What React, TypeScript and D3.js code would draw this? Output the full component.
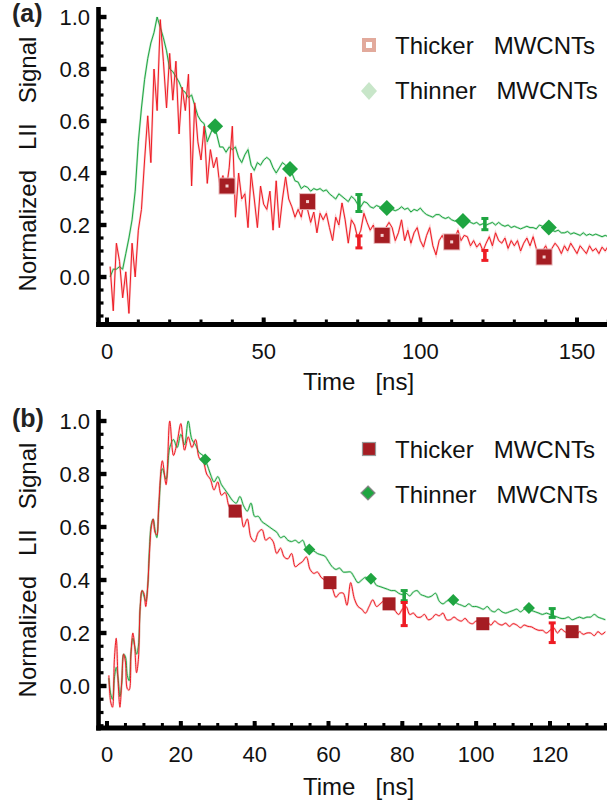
import React from "react";
import * as d3 from "d3";

// ---------- Panel (a) data ----------
const timeA = d3.range(1, 161);
const thickerA = [
  0.04, -0.13, 0.13, 0.06, -0.08, 0.02, -0.14, 0.13, 0.0, 0.18,
  0.26, 0.45, 0.62, 0.44, 0.8, 0.64, 0.99, 0.83, 0.65, 0.86,
  0.68, 0.83, 0.55, 0.73, 0.64, 0.78, 0.35, 0.67, 0.52, 0.45,
  0.58, 0.36, 0.49, 0.42, 0.46, 0.35, 0.39, 0.33, 0.42, 0.58,
  0.23, 0.4, 0.3, 0.32, 0.19, 0.4, 0.3, 0.19, 0.35, 0.28,
  0.26, 0.33, 0.18, 0.37, 0.19, 0.3, 0.385, 0.3, 0.27, 0.23,
  0.26, 0.23, 0.3, 0.26, 0.21, 0.25, 0.17, 0.245, 0.22, 0.245,
  0.19, 0.14, 0.23, 0.2, 0.285, 0.22, 0.13, 0.22, 0.2, 0.15,
  0.18, 0.245, 0.21, 0.18, 0.2, 0.15, 0.18, 0.16, 0.19, 0.21,
  0.19, 0.14, 0.17, 0.22, 0.14, 0.18, 0.13, 0.17, 0.19, 0.14,
  0.115, 0.16, 0.19, 0.12, 0.085, 0.14, 0.16, 0.13, 0.15, 0.12,
  0.15, 0.18, 0.14, 0.16, 0.155, 0.12, 0.14, 0.115, 0.13, 0.1,
  0.13, 0.155, 0.12, 0.17, 0.14, 0.13, 0.15, 0.11, 0.14, 0.12,
  0.14, 0.1, 0.13, 0.15, 0.12, 0.155, 0.11, 0.09, 0.1, 0.12,
  0.09, 0.11, 0.13, 0.115, 0.09, 0.12, 0.1, 0.13, 0.11, 0.09,
  0.12, 0.105, 0.09, 0.12, 0.1, 0.11, 0.09, 0.115, 0.1, 0.12,
];
const thinnerA = [
  0.0, 0.03, 0.03, 0.04, 0.03, 0.09, 0.15, 0.22, 0.33, 0.52,
  0.65, 0.76, 0.84, 0.9, 0.94, 1.0, 0.96, 0.92, 0.87, 0.8,
  0.79, 0.77, 0.75, 0.72, 0.71, 0.69, 0.7, 0.66, 0.62, 0.6,
  0.59, 0.52, 0.55, 0.58, 0.55, 0.5, 0.5, 0.48, 0.5, 0.49,
  0.5, 0.46, 0.44, 0.47, 0.49, 0.43, 0.41, 0.44, 0.43, 0.45,
  0.46, 0.45, 0.42, 0.4, 0.42, 0.44, 0.43, 0.415, 0.4, 0.37,
  0.365, 0.34, 0.35, 0.345, 0.33, 0.34, 0.335, 0.34, 0.33, 0.335,
  0.32, 0.31, 0.3, 0.32, 0.31, 0.3, 0.29, 0.31, 0.3, 0.28,
  0.27, 0.29, 0.285, 0.27, 0.265, 0.275, 0.27, 0.26, 0.265, 0.27,
  0.26, 0.255, 0.26, 0.27, 0.26, 0.265, 0.25, 0.26, 0.255, 0.265,
  0.25, 0.24, 0.235, 0.23, 0.24, 0.24, 0.23, 0.225, 0.23, 0.22,
  0.215, 0.22, 0.21, 0.215, 0.22, 0.21, 0.205, 0.21, 0.2, 0.205,
  0.2, 0.205, 0.21, 0.2, 0.21, 0.2, 0.195, 0.2, 0.19, 0.195,
  0.19, 0.185, 0.19, 0.195, 0.19, 0.19, 0.185, 0.2, 0.195, 0.19,
  0.19, 0.18, 0.175, 0.18, 0.17, 0.17, 0.175, 0.165, 0.17, 0.165,
  0.16, 0.17, 0.16, 0.165, 0.16, 0.165, 0.16, 0.155, 0.16, 0.155,
];
const thickMarkTA = [38.3, 64, 87.8, 110, 139.5];
const thickMarkVA = [0.35, 0.29, 0.16, 0.135, 0.077];
const thinMarkTA = [34.5, 58.4, 89.3, 113.6, 141];
const thinMarkVA = [0.58, 0.415, 0.265, 0.215, 0.19];
const errTA = [80.4, 120.6];
const thickErrLoA = [0.11, 0.062];
const thickErrHiA = [0.16, 0.104];
const thinErrLoA = [0.25, 0.18];
const thinErrHiA = [0.319, 0.227];

// ---------- Panel (b) data ----------
const timeB = [...d3.range(0.5, 14.01, 0.5), ...d3.range(15, 136)];
const thickerB = [
  0.04, -0.06, -0.08, 0.1, 0.18, 0.02, -0.08, 0.02, 0.12, 0.09,
  -0.01, -0.015, 0.12, 0.2, 0.15, 0.05, 0.1, 0.3, 0.36, 0.35,
  0.3, 0.37, 0.5, 0.6, 0.63, 0.58, 0.57, 0.68,
  0.85, 0.76, 1.0, 0.87, 0.92, 0.99, 0.89, 0.94, 0.9, 0.93,
  0.86, 0.85, 0.8, 0.78, 0.74, 0.77, 0.72, 0.73, 0.68, 0.66,
  0.64, 0.67, 0.6, 0.63, 0.56, 0.545, 0.58, 0.59, 0.55, 0.56,
  0.545, 0.5, 0.52, 0.487, 0.48, 0.5, 0.45, 0.46, 0.47, 0.487,
  0.44, 0.425, 0.43, 0.41, 0.4, 0.39, 0.37, 0.335, 0.35, 0.35,
  0.305, 0.39, 0.33, 0.3, 0.29, 0.275, 0.3, 0.325, 0.3, 0.31,
  0.32, 0.3, 0.3, 0.285, 0.27, 0.29, 0.3, 0.27, 0.275, 0.26,
  0.26, 0.27, 0.25, 0.255, 0.27, 0.265, 0.275, 0.25, 0.25, 0.26,
  0.25, 0.245, 0.255, 0.24, 0.235, 0.245, 0.24, 0.235, 0.24, 0.23,
  0.245, 0.235, 0.23, 0.237, 0.225, 0.235, 0.23, 0.22, 0.23, 0.225,
  0.223, 0.215, 0.21, 0.21, 0.2, 0.21, 0.22, 0.2, 0.215, 0.205,
  0.2, 0.207, 0.19, 0.205, 0.195, 0.2, 0.2, 0.19, 0.205, 0.195,
  0.205,
];
const thinnerB = [
  0.03, -0.03, -0.05, 0.03, 0.07, 0.03, -0.04, 0.01, 0.12, 0.11,
  0.04, 0.02, 0.13, 0.18, 0.15, 0.12, 0.15, 0.3, 0.36, 0.34,
  0.32, 0.37, 0.52, 0.61, 0.63, 0.59, 0.56, 0.66,
  0.82, 0.78, 0.9, 0.93, 0.9, 0.95, 0.91, 1.0, 0.93, 0.91,
  0.88, 0.87, 0.84, 0.8, 0.77, 0.79, 0.76, 0.74, 0.72, 0.7,
  0.69, 0.715, 0.68, 0.66, 0.69, 0.64, 0.64, 0.62, 0.61, 0.6,
  0.59, 0.58, 0.56, 0.565, 0.55, 0.545, 0.55, 0.54, 0.55, 0.52,
  0.515, 0.51, 0.5, 0.495, 0.49, 0.47, 0.45, 0.44, 0.445, 0.43,
  0.43, 0.43, 0.41, 0.39, 0.4, 0.41, 0.405, 0.4, 0.38, 0.375,
  0.37, 0.365, 0.36, 0.36, 0.35, 0.345, 0.35, 0.34, 0.355, 0.36,
  0.345, 0.34, 0.335, 0.34, 0.35, 0.32, 0.31, 0.32, 0.325, 0.32,
  0.31, 0.305, 0.3, 0.31, 0.3, 0.3, 0.295, 0.29, 0.3, 0.285,
  0.28, 0.29, 0.28, 0.275, 0.28, 0.285, 0.29, 0.28, 0.29, 0.294,
  0.285, 0.28, 0.275, 0.27, 0.275, 0.27, 0.265, 0.26, 0.255, 0.255,
  0.26, 0.25, 0.255, 0.26, 0.255, 0.26, 0.26, 0.27, 0.26, 0.255,
  0.25,
];
const thickMarkTB = [34.7, 60.4, 76.4, 101.8, 126];
const thickMarkVB = [0.66, 0.39, 0.31, 0.235, 0.205];
const thinMarkTB = [26.6, 54.8, 71.5, 93.8, 114.3];
const thinMarkVB = [0.855, 0.515, 0.405, 0.325, 0.294];
const errTB = [80.5, 120.6];
const thickErrLoB = [0.226, 0.162];
const thickErrHiB = [0.317, 0.24];
const thinErrLoB = [0.32, 0.257];
const thinErrHiB = [0.362, 0.294];

// ---------- axes ----------
const yMajor = [0, 0.2, 0.4, 0.6, 0.8, 1.0];
const yLabels = ["0.0", "0.2", "0.4", "0.6", "0.8", "1.0"];
const xMajorA = [0, 50, 100, 150];
const xMajorB = [0, 20, 40, 60, 80, 100, 120];
const legendLabels = ["Thicker   MWCNTs", "Thinner   MWCNTs"];
const yTitle = "Normalized   LII   Signal";
const xTitle = "Time   [ns]";

const FONT = "'Liberation Sans', Arial, Helvetica, sans-serif";
const RED = "#ee1c24";
const GREEN = "#1fa541";
const DARKRED = "#a51d23";

type PanelProps = {
  tag: string;
  top: number;
  x0: number;
  xRefT: number;
  xRefPx: number;
  y0: number;
  y1: number;
  axisTop: number;
  axisBottom: number;
  xMax: number;
  xMajor: number[];
  xMinorStep: number;
  time: number[];
  thick: number[];
  thin: number[];
  thickT: number[];
  thickV: number[];
  thinT: number[];
  thinV: number[];
  errT: number[];
  thickLo: number[];
  thickHi: number[];
  thinLo: number[];
  thinHi: number[];
  smooth: boolean;
  faded: boolean;
  sqSize: number;
  dmSize: number;
  xLabelBase: number;
  xTitleBase: number;
  yTitleCenter: number;
  legendY: number;
};

function Panel(p: PanelProps) {
  const x = d3.scaleLinear().domain([0, p.xRefT]).range([p.x0, p.xRefPx]);
  const y = d3.scaleLinear().domain([0, 1]).range([p.y0, p.y1]);
  const axisX = 98.5;
  const vMin = y.invert(p.axisBottom);
  const line = d3
    .line<number>()
    .x((_, i) => x(p.time[i]))
    .y((d) => y(d))
    .curve(p.smooth ? d3.curveCatmullRom.alpha(0.5) : d3.curveLinear);
  const yMinor = d3.range(-0.15, 1.001, 0.05).filter((v) => v >= vMin);
  const xMinor = d3.range(0, p.xMax + 0.001, p.xMinorStep);
  const clipId = "clip-" + p.tag;
  const sq = p.sqSize;
  const dm = p.dmSize;

  const errBar = (t: number, lo: number, hi: number, color: string, k: string) => {
    const cx = x(t);
    const yt = y(hi);
    const yb = y(lo);
    return (
      <g key={k} fill={color}>
        <rect x={cx - 1.8} y={yt} width={3.6} height={yb - yt} />
        <rect x={cx - 3.5} y={yt - 1} width={7} height={3} />
        <rect x={cx - 3.5} y={yb - 2} width={7} height={3} />
      </g>
    );
  };

  return (
    <g>
      <defs>
        <clipPath id={clipId}>
          <rect x={axisX + 2} y={p.axisTop} width={607 - axisX} height={p.axisBottom - p.axisTop - 2} />
        </clipPath>
      </defs>
      {/* lines */}
      <g clipPath={`url(#${clipId})`}>
        <path d={line(p.thin) || ""} fill="none" stroke="#9fd8ad" strokeWidth={2.2} strokeOpacity={0.6} />
        <path d={line(p.thick) || ""} fill="none" stroke="#f7a5a8" strokeWidth={2.2} strokeOpacity={0.6} />
        <path d={line(p.thin) || ""} fill="none" stroke={GREEN} strokeWidth={1} />
        <path d={line(p.thick) || ""} fill="none" stroke={RED} strokeWidth={1} />
      </g>
      {/* error bars */}
      {p.errT.map((t, i) => errBar(t, p.thinLo[i], p.thinHi[i], GREEN, "g" + i))}
      {p.errT.map((t, i) => errBar(t, p.thickLo[i], p.thickHi[i], RED, "r" + i))}
      {/* markers */}
      {p.thinT.map((t, i) => {
        const cx = x(t);
        const cy = y(p.thinV[i]);
        return (
          <path
            key={"d" + i}
            d={`M${cx},${cy - dm / 2}L${cx + dm / 2},${cy}L${cx},${cy + dm / 2}L${cx - dm / 2},${cy}Z`}
            fill={GREEN}
          />
        );
      })}
      {p.thickT.map((t, i) => {
        const cx = x(t);
        const cy = y(p.thickV[i]);
        return (
          <g key={"s" + i}>
            {p.faded && (
              <rect x={cx - sq / 2 - 1} y={cy - sq / 2 - 1} width={sq + 2} height={sq + 2} fill="#e8b4b6" />
            )}
            <rect x={cx - sq / 2} y={cy - sq / 2} width={sq} height={sq} fill={DARKRED} />
            {p.faded && <rect x={cx - 1.5} y={cy - 1.5} width={3} height={3} fill="#f4d0d0" />}
          </g>
        );
      })}
      {/* axes */}
      <rect x={axisX - 2.3} y={p.axisTop} width={4.6} height={p.axisBottom - p.axisTop + 2.5} fill="#000" />
      <rect x={axisX - 2.3} y={p.axisBottom - 2.5} width={607 - axisX + 2.3} height={5} fill="#000" />
      {yMajor.map((v) => (
        <rect key={"ym" + v} x={axisX} y={y(v) - 2.2} width={8} height={4.4} fill="#000" />
      ))}
      {yMinor.map((v, i) => (
        <rect key={"yn" + i} x={axisX} y={y(v) - 1.6} width={5} height={3.2} fill="#000" />
      ))}
      {p.xMajor.map((t) => (
        <rect key={"xm" + t} x={x(t) - 2} y={p.axisBottom - 7} width={4} height={7} fill="#000" />
      ))}
      {xMinor.map((t, i) => (
        <rect key={"xn" + i} x={x(t) - 1.5} y={p.axisBottom - 5} width={3} height={5} fill="#000" />
      ))}
      {/* tick labels */}
      {yMajor.map((v, i) => (
        <text key={"yl" + i} x={90} y={y(v)} dy="0.36em" textAnchor="end" fontSize={22} fontFamily={FONT} fill="#111">
          {yLabels[i]}
        </text>
      ))}
      {p.xMajor.map((t) => (
        <text key={"xl" + t} x={x(t)} y={p.xLabelBase} textAnchor="middle" fontSize={22} fontFamily={FONT} fill="#111">
          {t}
        </text>
      ))}
      {/* titles */}
      <text x={303} y={p.xTitleBase} fontSize={24} fontFamily={FONT} fill="#111" style={{ whiteSpace: "pre" }}>
        {xTitle}
      </text>
      <text
        transform={`translate(36,${p.yTitleCenter}) rotate(-90)`}
        textAnchor="middle"
        fontSize={24}
        fontFamily={FONT}
        fill="#111"
        style={{ whiteSpace: "pre" }}
      >
        {yTitle}
      </text>
      <text x={12} y={p.top + 22} fontSize={25} fontWeight="bold" fontFamily={FONT} fill="#222">
        {`(${p.tag})`}
      </text>
      {/* legend */}
      <g>
        {p.faded ? (
          <g>
            <rect x={362} y={p.legendY - 7} width={14} height={14} fill="#e2aa9c" />
            <rect x={366} y={p.legendY - 3} width={6} height={6} fill="#fff" />
          </g>
        ) : (
          <rect x={362.5} y={p.legendY - 6.5} width={13} height={13} fill={DARKRED} stroke="#999" strokeWidth={1.2} />
        )}
        <text x={395} y={p.legendY + 9} fontSize={24} fontFamily={FONT} fill="#111" style={{ whiteSpace: "pre" }}>
          {legendLabels[0]}
        </text>
        {p.faded ? (
          <path
            d={`M369,${p.legendY + 37}L377,${p.legendY + 46}L369,${p.legendY + 55}L361,${p.legendY + 46}Z`}
            fill="#c8e6c9"
          />
        ) : (
          <path
            d={`M368,${p.legendY + 37}L375,${p.legendY + 44}L368,${p.legendY + 51}L361,${p.legendY + 44}Z`}
            fill={GREEN}
            stroke="#888"
            strokeWidth={1.2}
          />
        )}
        <text x={395} y={p.legendY + 54} fontSize={24} fontFamily={FONT} fill="#111" style={{ whiteSpace: "pre" }}>
          {legendLabels[1]}
        </text>
      </g>
    </g>
  );
}

export default function App() {
  return (
    <svg
      width={607}
      height={807}
      style={{ position: "absolute", left: 0, top: 0, background: "#fff" }}
      viewBox="0 0 607 807"
    >
      <rect width={607} height={807} fill="#fff" />
      <Panel
        tag="a"
        top={0}
        x0={107}
        xRefT={150}
        xRefPx={577}
        y0={277}
        y1={17}
        axisTop={7}
        axisBottom={324.5}
        xMax={160}
        xMajor={xMajorA}
        xMinorStep={10}
        time={timeA}
        thick={thickerA}
        thin={thinnerA}
        thickT={thickMarkTA}
        thickV={thickMarkVA}
        thinT={thinMarkTA}
        thinV={thinMarkVA}
        errT={errTA}
        thickLo={thickErrLoA}
        thickHi={thickErrHiA}
        thinLo={thinErrLoA}
        thinHi={thinErrHiA}
        smooth={false}
        faded={true}
        sqSize={15}
        dmSize={16}
        xLabelBase={359}
        xTitleBase={390}
        yTitleCenter={164}
        legendY={45}
      />
      <Panel
        tag="b"
        top={405}
        x0={107}
        xRefT={120}
        xRefPx={550}
        y0={686}
        y1={421}
        axisTop={410}
        axisBottom={728}
        xMax={135}
        xMajor={xMajorB}
        xMinorStep={5}
        time={timeB}
        thick={thickerB}
        thin={thinnerB}
        thickT={thickMarkTB}
        thickV={thickMarkVB}
        thinT={thinMarkTB}
        thinV={thinMarkVB}
        errT={errTB}
        thickLo={thickErrLoB}
        thickHi={thickErrHiB}
        thinLo={thinErrLoB}
        thinHi={thinErrHiB}
        smooth={true}
        faded={false}
        sqSize={13}
        dmSize={12}
        xLabelBase={762}
        xTitleBase={795}
        yTitleCenter={570}
        legendY={449}
      />
    </svg>
  );
}
